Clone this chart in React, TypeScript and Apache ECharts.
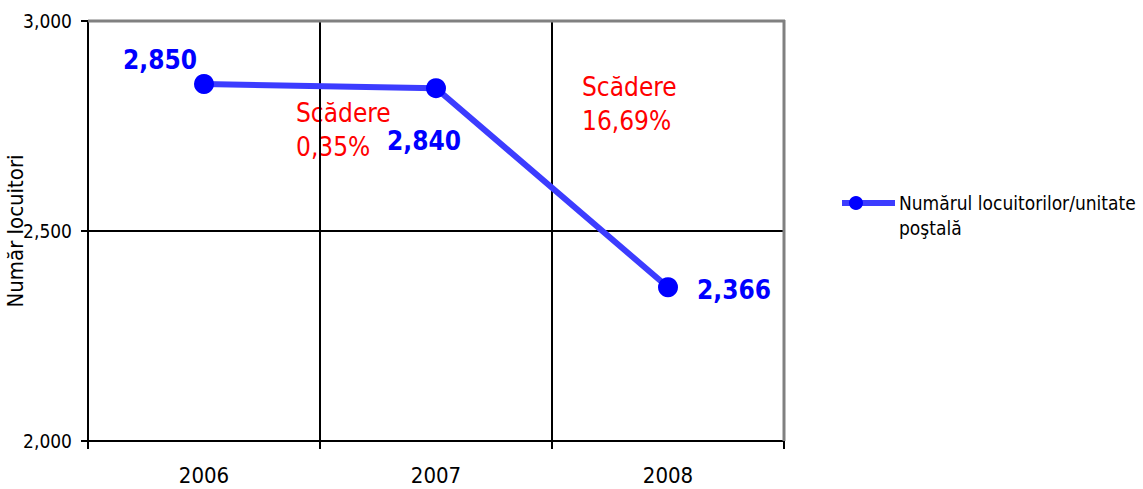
import React, { useEffect, useRef } from "react";
import * as echarts from "echarts";

const years = ["2006", "2007", "2008"];
const residentsPerPostalUnit = [2850, 2840, 2366];
const seriesName = "Numărul locuitorilor/unitate poştală";
const yTicks = [2000, 2500, 3000];
const annotations = ["Scădere\n0,35%", "Scădere\n16,69%"];

const FONT = "'DejaVu Sans Condensed', 'DejaVu Sans', sans-serif";
const labelOffsets: [number, number][] = [
  [-44, -24],
  [-12, 53],
  [66, 3],
];

export default function App() {
  const ref = useRef<HTMLDivElement>(null);
  useEffect(() => {
    document.body.style.margin = "0";
    const chart = echarts.init(ref.current!, null, { renderer: "svg" });
    const fmt = (v: number) => v.toLocaleString("en-US");
    chart.setOption({
      animation: false,
      textStyle: { fontFamily: FONT },
      grid: { left: 88, top: 21, right: 359, bottom: 48, containLabel: false, outerBoundsMode: "none" },
      xAxis: {
        type: "category",
        data: years,
        boundaryGap: true,
        axisLine: { lineStyle: { color: "#000", width: 2 } },
        axisTick: { show: true, length: 8, lineStyle: { color: "#000", width: 2 } },
        axisLabel: { color: "#000", fontSize: 22, margin: 23, fontFamily: FONT },
        splitLine: { show: true, lineStyle: { color: "#000", width: 2 } },
      },
      yAxis: {
        type: "value",
        min: yTicks[0],
        max: yTicks[yTicks.length - 1],
        interval: yTicks[1] - yTicks[0],
        name: "Număr locuitori",
        nameLocation: "middle",
        nameGap: 62,
        nameMoveOverlap: false,
        nameTextStyle: { color: "#000", fontSize: 22, fontFamily: FONT },
        axisLine: { show: true, lineStyle: { color: "#000", width: 2 } },
        axisTick: { show: true, length: 7, lineStyle: { color: "#000", width: 2 } },
        axisLabel: { color: "#000", fontSize: 19, margin: 16, formatter: fmt, fontFamily: FONT },
        splitLine: { show: true, lineStyle: { color: "#000", width: 2 } },
      },
      series: [
        {
          type: "line",
          name: seriesName,
          data: residentsPerPostalUnit.map((v, i) => ({
            value: v,
            label: { offset: labelOffsets[i] },
          })),
          symbol: "circle",
          symbolSize: 20,
          itemStyle: { color: "#0000ff" },
          lineStyle: { color: "#3c3cff", width: 6 },
          label: {
            show: true,
            position: "inside",
            color: "#0000ff",
            fontWeight: "bold",
            fontSize: 26,
            fontFamily: FONT,
            formatter: (p: any) => fmt(p.value),
          },
          z: 5,
        },
      ],
      graphic: [
        { type: "line", z: 100, shape: { x1: 88, y1: 21, x2: 785, y2: 21 }, style: { stroke: "#808080", lineWidth: 3 } },
        { type: "line", z: 100, shape: { x1: 784, y1: 20, x2: 784, y2: 441 }, style: { stroke: "#808080", lineWidth: 3 } },
        {
          type: "text",
          x: 296,
          y: 96,
          style: { text: annotations[0], fill: "#ff0000", fontSize: 26, lineHeight: 34, fontFamily: FONT },
        },
        {
          type: "text",
          x: 582,
          y: 70,
          style: { text: annotations[1], fill: "#ff0000", fontSize: 26, lineHeight: 34, fontFamily: FONT },
        },
        { type: "line", shape: { x1: 842, y1: 203, x2: 895, y2: 203 }, style: { stroke: "#3c3cff", lineWidth: 6 } },
        { type: "circle", shape: { cx: 856, cy: 203, r: 7 }, style: { fill: "#0000ff" } },
        {
          type: "text",
          x: 899,
          y: 190,
          style: {
            text: "Numărul locuitorilor/unitate\npoştală",
            fill: "#000",
            fontSize: 19,
            lineHeight: 25,
            fontFamily: FONT,
          },
        },
      ],
    });
    return () => chart.dispose();
  }, []);
  return <div ref={ref} style={{ position: "absolute", left: 0, top: 0, width: 1143, height: 489 }} />;
}
